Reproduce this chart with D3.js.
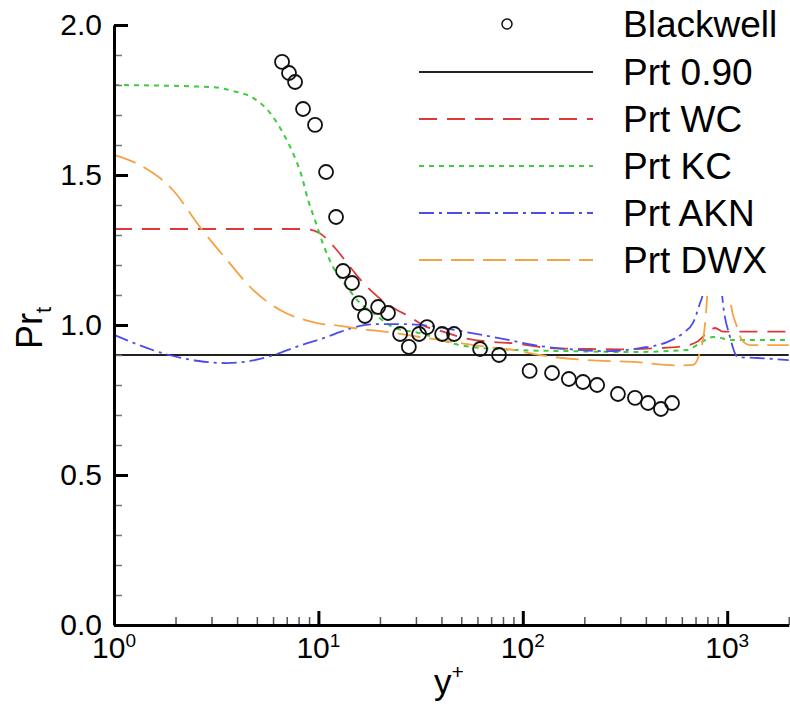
<!DOCTYPE html>
<html>
<head>
<meta charset="utf-8">
<script src="https://cdn.jsdelivr.net/npm/d3@7"></script>
<style>
  body { margin: 0; background: #fff; }
  svg { display: block; font-family: "Liberation Sans", Arial, sans-serif; }
</style>
</head>
<body>
<script>

// experimental points (Blackwell), y+ and Prt
var blackwell_x = [6.64, 7.18, 7.69, 8.41, 9.63, 10.9, 12.2, 13.2, 14.6, 15.8, 16.9, 19.6, 21.9, 25.1, 27.7,
  31.1, 34.0, 40.3, 46.1, 61.8, 76.5, 108, 139, 168, 197, 231, 292, 354, 410, 474, 537];
var blackwell_y = [1.877, 1.84, 1.81, 1.72, 1.667, 1.51, 1.36, 1.18, 1.14, 1.073, 1.03, 1.06, 1.04, 0.97, 0.927,
  0.97, 0.993, 0.97, 0.97, 0.92, 0.90, 0.847, 0.84, 0.82, 0.81, 0.80, 0.77, 0.757, 0.74, 0.72, 0.74];

// model curves, [y+, Prt]
var prt_090 = [[1, 0.9], [2000, 0.9]];

var prt_wc = [[1, 1.32], [5, 1.32], [8.1, 1.32], [9.1, 1.318], [10.2, 1.305], [12.3, 1.25], [14.3, 1.193],
  [17.3, 1.127], [19.6, 1.093], [24.2, 1.05], [27.1, 1.033], [34, 0.993], [38.5, 0.983], [49.3, 0.96],
  [71.5, 0.943], [86.6, 0.94], [144, 0.922], [213, 0.92], [299, 0.919], [433, 0.922], [588, 0.928],
  [712, 0.944], [800, 0.975], [872, 0.99], [954, 0.978], [2000, 0.978]];

var prt_kc = [[1, 1.80], [3.05, 1.793], [3.82, 1.78], [4.79, 1.757], [5.8, 1.707], [6.71, 1.64], [7.51, 1.573],
  [8.31, 1.493], [8.9, 1.417], [9.62, 1.35], [10.5, 1.273], [11.8, 1.193], [13.8, 1.127], [16, 1.073],
  [18.5, 1.04], [23.2, 0.993], [31.4, 0.973], [49.3, 0.933], [89.5, 0.917], [165, 0.913], [346, 0.91],
  [636, 0.917], [720, 0.935], [852, 0.96], [1067, 0.95], [2000, 0.95]];

var prt_akn = [[1, 0.967], [1.86, 0.90], [2.6, 0.88], [3.57, 0.873], [4.8, 0.882], [6.06, 0.90], [8, 0.93],
  [11, 0.96], [12.8, 0.977], [16, 0.997], [20, 1.003], [25.9, 1.003], [35.2, 0.997], [49.3, 0.98],
  [71.5, 0.96], [89.5, 0.947], [105, 0.937], [165, 0.92], [258, 0.913], [374, 0.923], [508, 0.943],
  [608, 0.973], [680, 1.007], [736, 1.073], [762, 1.107], [800, 1.4], [900, 1.4], [944, 1.1],
  [1032, 0.96], [1130, 0.893], [1400, 0.89], [2000, 0.883]];

var prt_dwx = [[1, 1.567], [1.39, 1.527], [1.94, 1.45], [2.63, 1.327], [3.57, 1.217], [4.79, 1.117],
  [6.49, 1.05], [9.1, 1.012], [10.5, 1.003], [11.9, 1.0], [14.8, 0.99], [21.7, 0.977], [31.4, 0.96],
  [49.3, 0.94], [66.8, 0.927], [89.5, 0.917], [121, 0.90], [206, 0.883], [346, 0.877], [588, 0.865],
  [680, 0.867], [736, 0.91], [778, 1.0], [797, 1.09], [830, 1.4], [990, 1.4], [1032, 1.09],
  [1117, 0.993], [1181, 0.95], [1293, 0.933], [2000, 0.933]];

var legend_labels = ["Blackwell", "Prt 0.90", "Prt WC", "Prt KC", "Prt AKN", "Prt DWX"];
var y_ticks = [0, 0.5, 1.0, 1.5, 2.0];
var x_ticks = [1, 10, 100, 1000];
var x_exponents = ["0", "1", "2", "3"];

var svg_width = 790;
var svg_height = 708;

var svg = d3.select("body")
  .append("svg")
  .attr("width", svg_width)
  .attr("height", svg_height);

// scales, one decade is about 204 px
var x_scale = d3.scaleLog()
  .domain([1, 2000])
  .range([114, 114 + Math.log10(2000) * 204.4]);

var y_scale = d3.scaleLinear()
  .domain([0, 2])
  .range([625, 25]);

// styles of the curves
var series = [
  { data: prt_090, color: "#222", dash: null, width: 1.8 },
  { data: prt_wc, color: "#dc3a3a", dash: "18,10", width: 1.8 },
  { data: prt_kc, color: "#3ccc3c", dash: "5,5", width: 2 },
  { data: prt_akn, color: "#4c4cec", dash: "15,5,3,5", width: 1.8 },
  { data: prt_dwx, color: "#f5a242", dash: "23,9", width: 1.8 }
];

var line = d3.line()
  .x(function(d) { return x_scale(d[0]); })
  .y(function(d) { return y_scale(d[1]); })
  .curve(d3.curveMonotoneX);

svg.append("g")
  .selectAll("path")
  .data(series)
  .enter()
  .append("path")
  .attr("d", function(d) { return line(d.data); })
  .attr("fill", "none")
  .attr("stroke", function(d) { return d.color; })
  .attr("stroke-width", function(d) { return d.width; })
  .attr("stroke-dasharray", function(d) { return d.dash; });

// Blackwell circles
var points = blackwell_x.map(function(x, i) { return [x, blackwell_y[i]]; });

svg.append("g")
  .selectAll("circle")
  .data(points)
  .enter()
  .append("circle")
  .attr("cx", function(d) { return x_scale(d[0]); })
  .attr("cy", function(d) { return y_scale(d[1]); })
  .attr("r", 7)
  .attr("fill", "none")
  .attr("stroke", "#111")
  .attr("stroke-width", 1.8);

// legend with white background (covers the peaks near 10^3)
var legend = svg.append("g");

legend.append("rect")
  .attr("x", 402)
  .attr("y", 0)
  .attr("width", 388)
  .attr("height", 296)
  .attr("fill", "#fff");

var legend_y = [24, 72, 119, 166, 213, 260];

legend.append("circle")
  .attr("cx", 507)
  .attr("cy", legend_y[0])
  .attr("r", 5)
  .attr("fill", "none")
  .attr("stroke", "#111")
  .attr("stroke-width", 1.5);

series.forEach(function(s, i) {
  legend.append("line")
    .attr("x1", 419)
    .attr("x2", 593)
    .attr("y1", legend_y[i + 1])
    .attr("y2", legend_y[i + 1])
    .attr("stroke", s.color)
    .attr("stroke-width", s.width)
    .attr("stroke-dasharray", s.dash);
});

legend.selectAll("text")
  .data(legend_labels)
  .enter()
  .append("text")
  .attr("x", 623)
  .attr("y", function(d, i) { return legend_y[i]; })
  .attr("dy", "0.35em")
  .style("font-size", "37px")
  .text(function(d) { return d; });

// y axis, ticks point inwards
var minor_y = d3.range(0, 2.01, 0.1).filter(function(v) {
  return Math.abs(v * 2 - Math.round(v * 2)) > 0.01;
});

svg.append("g")
  .attr("transform", "translate(114,0)")
  .call(d3.axisLeft(y_scale).tickValues(minor_y).tickSize(-8).tickFormat(""))
  .call(function(g) { g.select(".domain").remove(); })
  .selectAll("line").attr("stroke", "#777").attr("stroke-width", 1.5);

var y_axis = svg.append("g")
  .attr("transform", "translate(114,0)")
  .call(d3.axisLeft(y_scale)
    .tickValues(y_ticks)
    .tickSize(-14)
    .tickSizeOuter(0)
    .tickPadding(12)
    .tickFormat(d3.format(".1f")));

y_axis.select(".domain").attr("stroke-width", 3);
y_axis.selectAll(".tick line").attr("stroke-width", 3);
y_axis.selectAll("text")
  .attr("fill", "#000")
  .style("font-size", "30px")
  .style("font-family", "'Liberation Sans', Arial, sans-serif");

// x axis
var minor_x = [];
[1, 10, 100, 1000].forEach(function(dec) {
  for (var k = 2; k <= 9; k++) {
    if (dec * k <= 2000) minor_x.push(dec * k);
  }
});

svg.append("g")
  .attr("transform", "translate(0,625)")
  .call(d3.axisBottom(x_scale).tickValues(minor_x).tickSize(-8).tickFormat(""))
  .call(function(g) { g.select(".domain").remove(); })
  .selectAll("line").attr("stroke", "#555").attr("stroke-width", 1.5);

var x_axis = svg.append("g")
  .attr("transform", "translate(0,625)")
  .call(d3.axisBottom(x_scale).tickValues(x_ticks).tickSize(-14).tickSizeOuter(0).tickFormat(""));

x_axis.select(".domain").attr("stroke-width", 3);
x_axis.selectAll(".tick line").attr("stroke-width", 3);

// x tick labels as 10 with superscript
var x_labels = svg.append("g")
  .selectAll("text")
  .data(x_ticks)
  .enter()
  .append("text")
  .attr("x", function(d) { return x_scale(d); })
  .attr("y", 658)
  .attr("text-anchor", "middle")
  .style("font-size", "30px");

x_labels.append("tspan").text("10");
x_labels.append("tspan")
  .attr("dy", -11)
  .style("font-size", "19px")
  .text(function(d, i) { return x_exponents[i]; });

// axis titles
var x_title = svg.append("text")
  .attr("x", 434)
  .attr("y", 694)
  .style("font-size", "35px");
x_title.append("tspan").text("y");
x_title.append("tspan").attr("dy", -15).style("font-size", "21px").text("+");

var y_title = svg.append("text")
  .attr("transform", "translate(42,328) rotate(-90)")
  .attr("text-anchor", "middle")
  .style("font-size", "36px");
y_title.append("tspan").text("Pr");
y_title.append("tspan").attr("dy", 9).style("font-size", "22px").text("t");

</script>
</body>
</html>
